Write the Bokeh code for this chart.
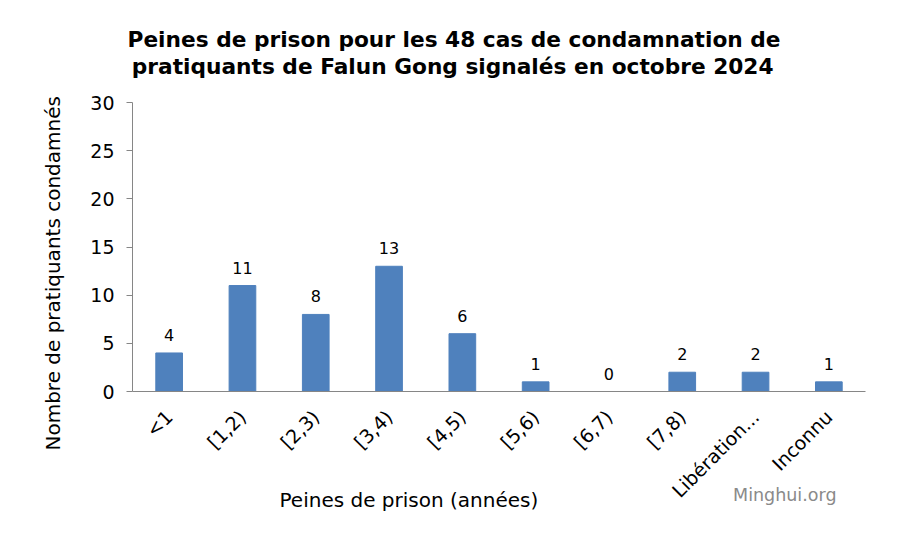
from bokeh.plotting import figure
from bokeh.models import ColumnDataSource, FixedTicker, LabelSet, Title
from bokeh.core.properties import value
from bokeh.embed import file_html
from bokeh.resources import INLINE
import math

categories = ["<1", "[1,2)", "[2,3)", "[3,4)", "[4,5)", "[5,6)", "[6,7)", "[7,8)", "Libération...", "Inconnu"]
counts = [4, 11, 8, 13, 6, 1, 0, 2, 2, 1]
y_ticks = [0, 5, 10, 15, 20, 25, 30]
title_lines = ["Peines de prison pour les 48 cas de condamnation de",
               "pratiquants de Falun Gong signalés en octobre 2024"]
x_title = "Peines de prison (années)"
y_title = "Nombre de pratiquants condamnés"
watermark = "Minghui.org"

FONT = "DejaVu Sans"
W, H = 898, 556
L, R, T, B = 132, 33, 102, 165

src = ColumnDataSource(dict(cat=categories, n=counts, lab=[str(c) for c in counts]))

p = figure(x_range=categories, y_range=(0, 30), width=W, height=H,
           output_backend="svg", toolbar_location=None,
           min_border_left=L, min_border_right=R, min_border_top=T, min_border_bottom=B)
p.outline_line_color = None
p.xgrid.grid_line_color = None
p.ygrid.grid_line_color = None
p.x_range.range_padding = 0

p.vbar(x="cat", top="n", width=0.364, source=src, color="#4F81BD")

labels = LabelSet(x="cat", y="n", text="lab", source=src, text_align="center",
                  text_baseline="bottom", y_offset=12, text_font_size="16px",
                  text_font=value(FONT), text_color="#000000")
p.add_layout(labels)

p.yaxis.ticker = FixedTicker(ticks=y_ticks)
p.yaxis.axis_line_color = "#868686"
p.yaxis.major_tick_line_color = "#868686"
p.yaxis.major_tick_out = 6
p.yaxis.major_tick_in = 0
p.yaxis.minor_tick_line_color = None
p.yaxis.major_label_text_font = FONT
p.yaxis.major_label_text_font_size = "19px"
p.yaxis.major_label_text_color = "#000000"
p.yaxis.major_label_standoff = 12

p.xaxis.axis_line_color = "#868686"
p.xaxis.major_tick_line_color = None
p.xaxis.minor_tick_line_color = None
p.xaxis.major_label_orientation = math.pi / 4
p.xaxis.major_label_text_font = FONT
p.xaxis.major_label_text_font_size = "19px"
p.xaxis.major_label_text_color = "#000000"
p.xaxis.major_label_standoff = 16


def title(text, side, size, align="left", offset=0, standoff=10, bold=False,
          color="#000000", line_height=1.2, valign="bottom"):
    t = Title(text=text, align=align, offset=offset, standoff=standoff,
              vertical_align=valign,
              text_font=FONT, text_font_size=size, text_line_height=line_height,
              text_font_style="bold" if bold else "normal", text_color=color)
    p.add_layout(t, side)

# main title (two lines, one Title)
title(title_lines[0] + "\n\u2009" + title_lines[1], "above", "21.7px",
      offset=-5, standoff=47, bold=True, line_height=1.08)
# below
title(x_title, "below", "20px", offset=147, standoff=-50, valign="top")
title(watermark, "below", "17.5px", align="right", offset=29, standoff=-56,
      color="#8a8a8a", valign="top")
# left
title(y_title, "left", "20px", offset=-59, standoff=46)

open("out.html", "w").write(file_html(p, INLINE))
